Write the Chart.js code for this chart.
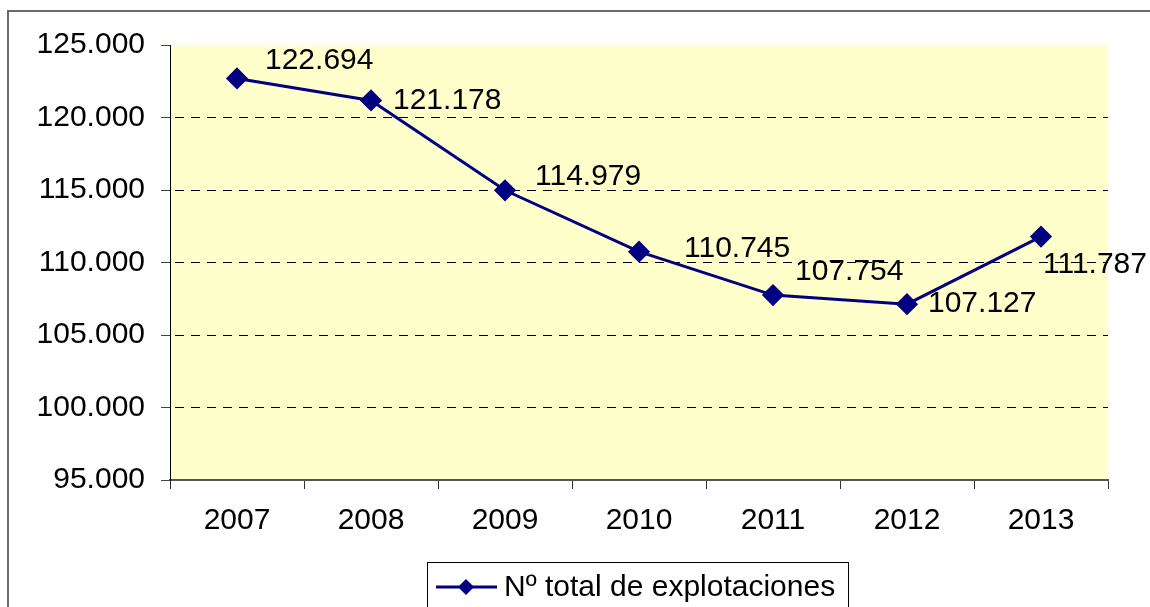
<!DOCTYPE html>
<html>
<head>
<meta charset="utf-8">
<script src="https://cdn.jsdelivr.net/npm/chart.js@4/dist/chart.umd.min.js"></script>
<style>
  html, body { margin: 0; padding: 0; background: #fff; }
  #wrap { width: 1150px; height: 607px; position: relative; }
</style>
</head>
<body>
<div id="wrap"><canvas id="grafico" width="1150" height="607"></canvas></div>
<script>
// Datos del gráfico
const anios = ['2007', '2008', '2009', '2010', '2011', '2012', '2013'];
const explotaciones = [122694, 121178, 114979, 110745, 107754, 107127, 111787];
const ticksY = [95000, 100000, 105000, 110000, 115000, 120000, 125000];
const nombreSerie = 'Nº total de explotaciones';

// Desplazamiento de cada etiqueta respecto a su punto
const desplazEtiquetas = [[28, -18], [22, 0], [30, -14], [45, -3], [22, -23], [21, 0], [2, 28]];

const azul = '#000080';
const fuente = 'Liberation Sans, Arial, sans-serif';

const formatoES = v => v.toLocaleString('de-DE');

// Fondo amarillo, borde exterior, etiquetas y leyenda
const decorado = {
    id: 'decorado',
    beforeDraw(chart) {
        const { ctx, chartArea } = chart;
        ctx.save();
        ctx.fillStyle = '#FFFFCC';
        ctx.fillRect(chartArea.left, chartArea.top, chartArea.right - chartArea.left, chartArea.bottom - chartArea.top);
        ctx.strokeStyle = '#6b6b6b';
        ctx.lineWidth = 2;
        ctx.strokeRect(8, 11, 1300, 800);
        ctx.restore();
    },
    afterDraw(chart) {
        const { ctx } = chart;
        const meta = chart.getDatasetMeta(0);
        ctx.save();
        ctx.fillStyle = '#000';
        ctx.font = '30px ' + fuente;
        ctx.textAlign = 'left';
        ctx.textBaseline = 'middle';
        meta.data.forEach((pt, i) => {
            const [dx, dy] = desplazEtiquetas[i];
            ctx.fillText(formatoES(explotaciones[i]), pt.x + dx, pt.y + dy);
        });

        // Leyenda con recuadro
        ctx.strokeStyle = '#000';
        ctx.lineWidth = 1;
        ctx.strokeRect(427.5, 562.5, 421, 60);
        ctx.strokeStyle = azul;
        ctx.lineWidth = 3;
        ctx.beginPath();
        ctx.moveTo(436, 587);
        ctx.lineTo(497, 587);
        ctx.stroke();
        ctx.fillStyle = azul;
        ctx.beginPath();
        ctx.moveTo(466, 579);
        ctx.lineTo(474, 587);
        ctx.lineTo(466, 595);
        ctx.lineTo(458, 587);
        ctx.closePath();
        ctx.fill();
        ctx.fillStyle = '#000';
        ctx.font = '30px ' + fuente;
        ctx.textBaseline = 'alphabetic';
        ctx.fillText(nombreSerie, 504, 596);
        ctx.restore();
    }
};

new Chart(document.getElementById('grafico'), {
    type: 'line',
    data: {
        labels: anios,
        datasets: [{
            label: nombreSerie,
            data: explotaciones,
            borderColor: azul,
            backgroundColor: azul,
            borderWidth: 3,
            pointStyle: 'rectRot',
            pointRadius: 9,
            pointHoverRadius: 9,
            tension: 0
        }]
    },
    options: {
        responsive: false,
        animation: false,
        layout: { padding: { top: 45, right: 42, left: 0, bottom: 0 } },
        plugins: {
            legend: { display: false },
            tooltip: { enabled: false }
        },
        scales: {
            x: {
                offset: true,
                grid: {
                    offset: true,
                    drawOnChartArea: false,
                    tickLength: 9,
                    color: '#333',
                    tickColor: '#333'
                },
                border: { color: '#555', width: 2 },
                ticks: {
                    color: '#000',
                    font: { family: fuente, size: 30 },
                    padding: 14,
                    maxRotation: 0
                },
                afterFit: s => { s.height = 127; }
            },
            y: {
                min: 95000,
                max: 125000,
                afterBuildTicks: s => { s.ticks = ticksY.map(v => ({ value: v })); },
                grid: {
                    color: ctx => (ctx.tick && (ctx.tick.value === 95000 || ctx.tick.value === 125000)) ? 'rgba(0,0,0,0)' : '#000',
                    tickColor: '#444',
                    tickBorderDash: [],
                    tickLength: 9,
                    lineWidth: 1
                },
                border: { color: '#000', width: 1, dash: [9, 7], dashOffset: -4 },
                ticks: {
                    color: '#000',
                    font: { family: fuente, size: 30 },
                    padding: 16,
                    callback: v => formatoES(v)
                },
                afterFit: s => { s.width = 170; }
            }
        }
    },
    plugins: [decorado]
});
</script>
</body>
</html>
